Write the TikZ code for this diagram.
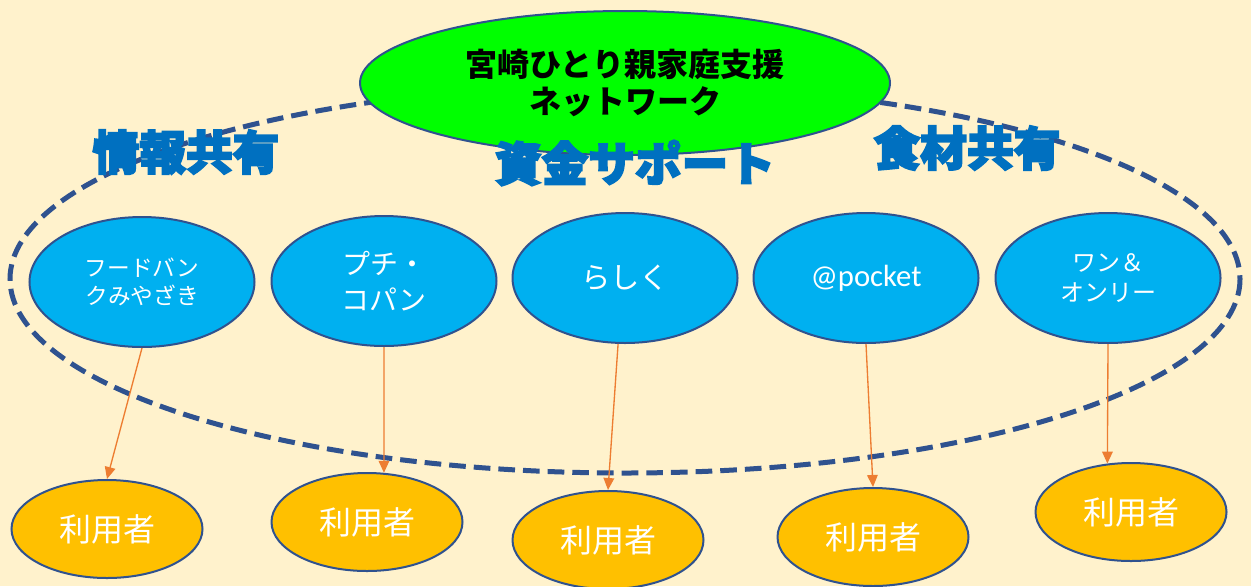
\documentclass[tikz,border=0pt]{standalone}
\usepackage{fontspec}
\newfontfamily\jpfont{Noto Sans CJK JP}
\newfontfamily\jpheavy[FakeBold=4]{Noto Sans CJK JP}
\newfontfamily\latinfont{Carlito}
\usetikzlibrary{shapes.geometric,arrows.meta}

\definecolor{bgcream}{HTML}{FFF2CC}
\definecolor{netblue}{HTML}{2F528F}
\definecolor{titlegreen}{HTML}{00FF00}
\definecolor{groupblue}{HTML}{00B0F0}
\definecolor{userorange}{HTML}{FFC000}
\definecolor{headblue}{HTML}{0070C0}
\definecolor{linkorange}{HTML}{ED7D31}

\tikzset{every picture/.style={line width=0.75pt}}
\tikzset{
  titleoval/.style={ellipse, draw=netblue, line width=1.5pt, fill=titlegreen,
    minimum width=397.5pt, minimum height=108pt, inner sep=0pt, align=center,
    font=\jpfont\bfseries\fontsize{24}{28}\selectfont},
  groupoval/.style={ellipse, draw=netblue, line width=1.5pt, fill=groupblue,
    minimum width=168.75pt, minimum height=97.5pt, inner sep=0pt, align=center, text=white},
  useroval/.style={ellipse, draw=netblue, line width=1.5pt, fill=userorange,
    minimum width=143.25pt, minimum height=73.5pt, inner sep=0pt, text=white,
    font=\jpfont\fontsize{24}{28}\selectfont},
  headline/.style={text=headblue, inner sep=0pt,
    font=\jpheavy\bfseries\fontsize{35}{40}\selectfont},
  linkarrow/.style={draw=linkorange, line width=1pt, -{Triangle[length=9pt,width=8pt]}}
}

\begin{document}
\begin{tikzpicture}[x=0.75pt,y=0.75pt,yscale=-1,xscale=1]
    \useasboundingbox (0,0) rectangle (1251,586);
    %Background
    \fill[bgcream] (0,0) rectangle (1251,586);

    %Shape: Ellipse (dashed network ring)
    \draw[netblue, line width=3.75pt, dash pattern=on 12.5pt off 6pt] (625,279) ellipse [x radius=615, y radius=194];

    %Shape: Ellipse (title)
    \node[titleoval] (net) at (625,83) {宮崎ひとり親家庭支援\\ネットワーク};

    % Text Node
    \node[headline] (info) at (186,152) {情報共有};
    % Text Node
    \node[headline] (fund) at (635,163) {資金サポート};
    % Text Node
    \node[headline] (food) at (967,148) {食材共有};

    %Shape: Ellipse (groups)
    \node[groupoval, font=\jpfont\fontsize{17}{21}\selectfont] (b1) at (142,282) {フードバン\\クみやざき};
    \node[groupoval, font=\jpfont\fontsize{21}{27}\selectfont] (b2) at (384,281) {プチ・\\コパン};
    \node[groupoval, font=\jpfont\fontsize{22}{26}\selectfont] (b3) at (625,278) {らしく};
    \node[groupoval, font=\latinfont\fontsize{23}{28}\selectfont] (b4) at (866,278) {@pocket};
    \node[groupoval, font=\jpfont\fontsize{18}{22.5}\selectfont] (b5) at (1108,278) {ワン＆\\オンリー};

    %Shape: Ellipse (users)
    \node[useroval] (u1) at (107,529) {利用者};
    \node[useroval] (u2) at (367,522) {利用者};
    \node[useroval] (u3) at (608,540) {利用者};
    \node[useroval] (u4) at (873,537) {利用者};
    \node[useroval] (u5) at (1131,512) {利用者};

    %Straight Lines
    \draw[linkarrow] (b1.south) -- (u1.north);
    \draw[linkarrow] (b2.south) -- (u2.71);
    \draw[linkarrow] (b3.-96) -- (u3.north);
    \draw[linkarrow] (b4.south) -- (u4.north);
    \draw[linkarrow] (b5.south) -- (u5.116);

\end{tikzpicture}
\end{document}
